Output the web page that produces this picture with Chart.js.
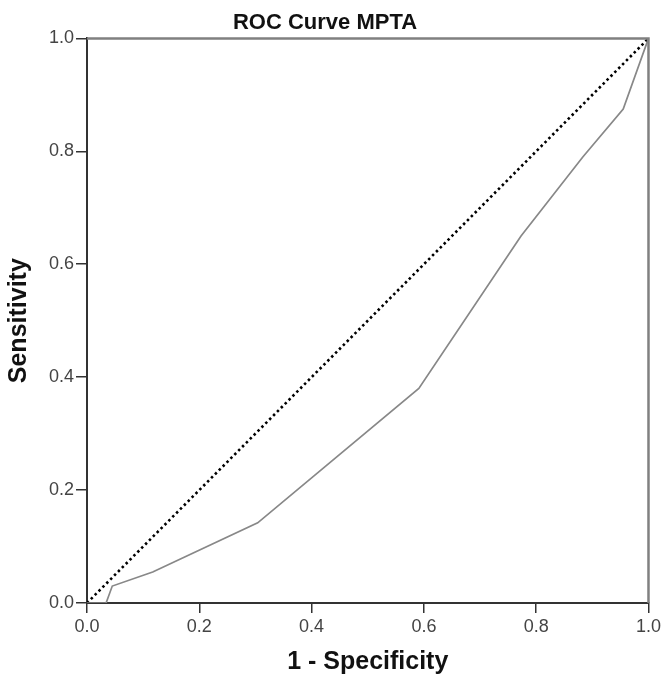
<!DOCTYPE html>
<html>
<head>
<meta charset="utf-8">
<script src="https://cdn.jsdelivr.net/npm/chart.js@4/dist/chart.umd.min.js"></script>
<style>
html,body{margin:0;padding:0;background:#fff;}
#wrap{width:664px;height:677px;}
</style>
</head>
<body>
<div id="wrap"><canvas id="c" width="664" height="677"></canvas></div>
<script>
const fpr = [0, 0.034, 0.045, 0.117, 0.304, 0.591, 0.773, 0.883, 0.955, 1.0];
const tpr = [0, 0, 0.03, 0.055, 0.142, 0.38, 0.65, 0.79, 0.875, 1.0];
const refX = [0, 1];
const refY = [0, 1];
const tickValues = [0, 0.2, 0.4, 0.6, 0.8, 1.0];

const FONT = 'Liberation Sans, Arial, sans-serif';

const framePlugin = {
  id: 'frame',
  afterDatasetsDraw(chart) {
    const {ctx, chartArea: a} = chart;
    ctx.save();
    ctx.strokeStyle = '#808080';
    ctx.lineWidth = 2.5;
    ctx.beginPath();
    ctx.moveTo(a.left, a.top);
    ctx.lineTo(a.right, a.top);
    ctx.lineTo(a.right, a.bottom);
    ctx.stroke();
    ctx.restore();
  }
};

new Chart(document.getElementById('c'), {
  type: 'scatter',
  data: {
    datasets: [
      {
        data: fpr.map((x, i) => ({x, y: tpr[i]})),
        showLine: true,
        borderColor: '#888888',
        borderWidth: 1.7,
        pointRadius: 0,
        tension: 0
      },
      {
        data: refX.map((x, i) => ({x, y: refY[i]})),
        showLine: true,
        borderColor: '#000',
        borderWidth: 2.6,
        borderDash: [2.5, 3],
        pointRadius: 0
      }
    ]
  },
  options: {
    responsive: false,
    animation: false,
    layout: {padding: {right: 14, left: 0, top: 0, bottom: 0}},
    plugins: {
      legend: {display: false},
      tooltip: {enabled: false},
      title: {
        display: true,
        text: 'ROC Curve MPTA',
        color: '#111',
        font: {family: FONT, size: 22, weight: 'bold'},
        padding: {top: 10, bottom: 2}
      }
    },
    scales: {
      x: {
        type: 'linear',
        min: 0, max: 1,
        afterBuildTicks(s) { s.ticks = tickValues.map(v => ({value: v})); },
        afterFit(s) { s.height = 74; },
        ticks: {
          color: '#444',
          font: {family: FONT, size: 18},
          padding: 3,
          maxRotation: 0,
          callback: v => v.toFixed(1)
        },
        grid: {display: true, drawOnChartArea: false, drawTicks: true, tickLength: 10, color: '#333', lineWidth: 1.5},
        border: {display: true, color: '#333', width: 2},
        title: {
          display: true,
          text: '1 - Specificity',
          color: '#111',
          font: {family: FONT, size: 25, weight: 'bold'},
          padding: {top: 0, bottom: 0}
        }
      },
      y: {
        type: 'linear',
        min: 0, max: 1,
        afterBuildTicks(s) { s.ticks = tickValues.map(v => ({value: v})); },
        afterFit(s) { s.width = 87; },
        ticks: {
          color: '#444',
          font: {family: FONT, size: 18},
          padding: 2,
          callback: v => v.toFixed(1)
        },
        grid: {display: true, drawOnChartArea: false, drawTicks: true, tickLength: 11, color: '#333', lineWidth: 1.5},
        border: {display: true, color: '#333', width: 2},
        title: {
          display: true,
          text: 'Sensitivity',
          color: '#111',
          font: {family: FONT, size: 25, weight: 'bold'},
          padding: {top: 4, bottom: 0}
        }
      }
    }
  },
  plugins: [framePlugin]
});
</script>
</body>
</html>
